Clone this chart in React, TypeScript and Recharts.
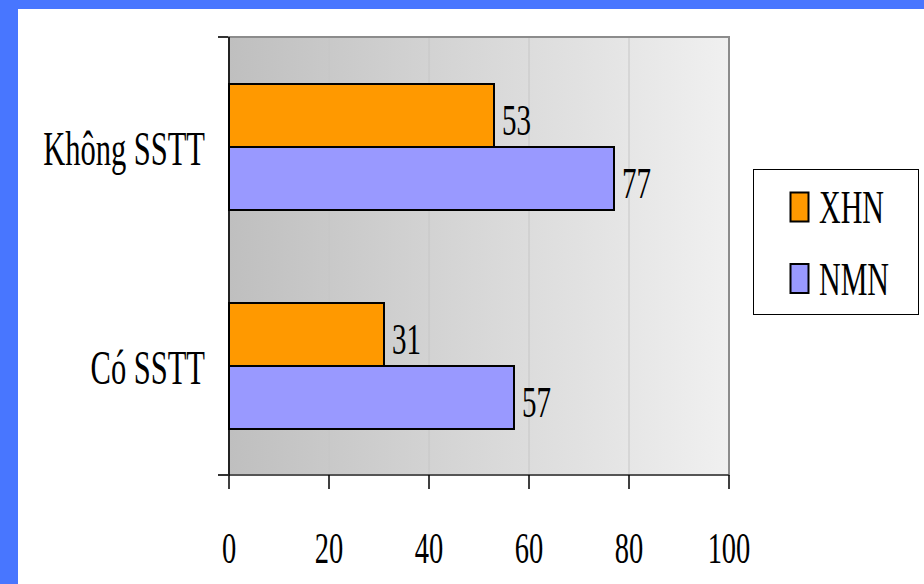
import React from 'react';
import {
  BarChart,
  Bar,
  XAxis,
  YAxis,
  CartesianGrid,
  ReferenceArea,
  Legend,
  LabelList,
} from 'recharts';

const categories = ['Không SSTT', 'Có SSTT'];
const seriesNames = ['XHN', 'NMN'];
const xhnValues = [53, 31];
const nmnValues = [77, 57];
const xTicks = [0, 20, 40, 60, 80, 100];
const bandEdges = [0, 1, 2];

const data = categories.map((name, i) => ({ name, XHN: xhnValues[i], NMN: nmnValues[i] }));

const FONT = '"Liberation Serif", "Times New Roman", serif';

// the original text is a tall, narrow serif: draw it stretched vertically
function Stretch({ x, y, size = 29, anchor = 'start', children }: any) {
  return (
    <g transform={`translate(${x},${y}) scale(1,1.56)`}>
      <text x={0} y={0} textAnchor={anchor} fontSize={size} fontFamily={FONT} fill="#000">
        {children}
      </text>
    </g>
  );
}

function CategoryTick({ x, y, payload }: any) {
  return (
    <Stretch x={x} y={y + 18} size={30.5} anchor="end">
      {payload.value}
    </Stretch>
  );
}

function ValueTick({ x, y, payload }: any) {
  return (
    <Stretch x={x} y={y + 72} size={28.5} anchor="middle">
      {payload.value}
    </Stretch>
  );
}

function BarValue({ x, y, width, height, value }: any) {
  return (
    <Stretch x={x + width + 8} y={y + height / 2 + 19} size={29}>
      {value}
    </Stretch>
  );
}

function LegendBox({ payload }: any) {
  const items = [...(payload || [])].sort(
    (a: any, b: any) => seriesNames.indexOf(a.value) - seriesNames.indexOf(b.value),
  );
  return (
    <svg width={166} height={146} style={{ display: 'block' }}>
      <rect x={0.5} y={0.5} width={165} height={145} fill="#fff" stroke="#000" />
      {items.map((p: any, i: number) => (
        <g key={p.value} transform={`translate(0,${i * 71.5})`}>
          <rect x={37.5} y={23.5} width={18} height={29} fill={p.color} stroke="#000" strokeWidth={2} />
          <Stretch x={66} y={54} size={30}>
            {p.value}
          </Stretch>
        </g>
      ))}
    </svg>
  );
}

export default function App() {
  return (
    <div style={{ position: 'absolute', left: 0, top: 0, width: 924, height: 584, background: '#4876FF' }}>
      <div style={{ position: 'absolute', left: 18, top: 9, width: 906, height: 575, background: '#fff' }} />
      <div style={{ position: 'absolute', left: 0, top: 0 }}>
        <BarChart
          width={924}
          height={584}
          data={data}
          layout="vertical"
          margin={{ top: 37, right: 195, bottom: 0, left: 227 }}
          barCategoryGap={47}
          barGap={0}
        >
          <defs>
            <linearGradient id="plotBg" x1="0" y1="0" x2="1" y2="0">
              <stop offset="0%" stopColor="#bfbfbf" />
              <stop offset="100%" stopColor="#f0f0f0" />
            </linearGradient>
          </defs>
          <CartesianGrid horizontal={false} stroke="#c6c6c6" fill="url(#plotBg)" fillOpacity={1} />
          <ReferenceArea x1={0} x2={100} fill="none" stroke="#8c8c8c" strokeWidth={2} />
          <XAxis
            type="number"
            domain={[0, 100]}
            ticks={xTicks}
            interval={0}
            height={109}
            tickSize={14}
            axisLine={{ stroke: '#555', strokeWidth: 2 }}
            tickLine={{ stroke: '#000', strokeWidth: 1.5 }}
            tick={ValueTick}
          />
          <YAxis
            type="category"
            dataKey="name"
            width={1}
            tickLine={false}
            tickSize={0}
            tickMargin={24}
            axisLine={{ stroke: '#000', strokeWidth: 1.5 }}
            tick={CategoryTick}
          />
          <YAxis
            yAxisId="edges"
            type="number"
            domain={[0, 2]}
            ticks={bandEdges}
            allowDataOverflow
            width={1}
            axisLine={false}
            tickSize={10}
            tickLine={{ stroke: '#333', strokeWidth: 2 }}
            tick={() => <g />}
          />
          <Legend
            layout="vertical"
            verticalAlign="middle"
            align="center"
            content={LegendBox}
            wrapperStyle={{ position: 'absolute', left: 753, top: 169, width: 166, height: 146 }}
          />
          <Bar dataKey="XHN" fill="#FF9900" stroke="#000" strokeWidth={2} isAnimationActive={false}>
            <LabelList dataKey="XHN" content={BarValue} />
          </Bar>
          <Bar dataKey="NMN" fill="#9999FF" stroke="#000" strokeWidth={2} isAnimationActive={false}>
            <LabelList dataKey="NMN" content={BarValue} />
          </Bar>
        </BarChart>
      </div>
    </div>
  );
}
